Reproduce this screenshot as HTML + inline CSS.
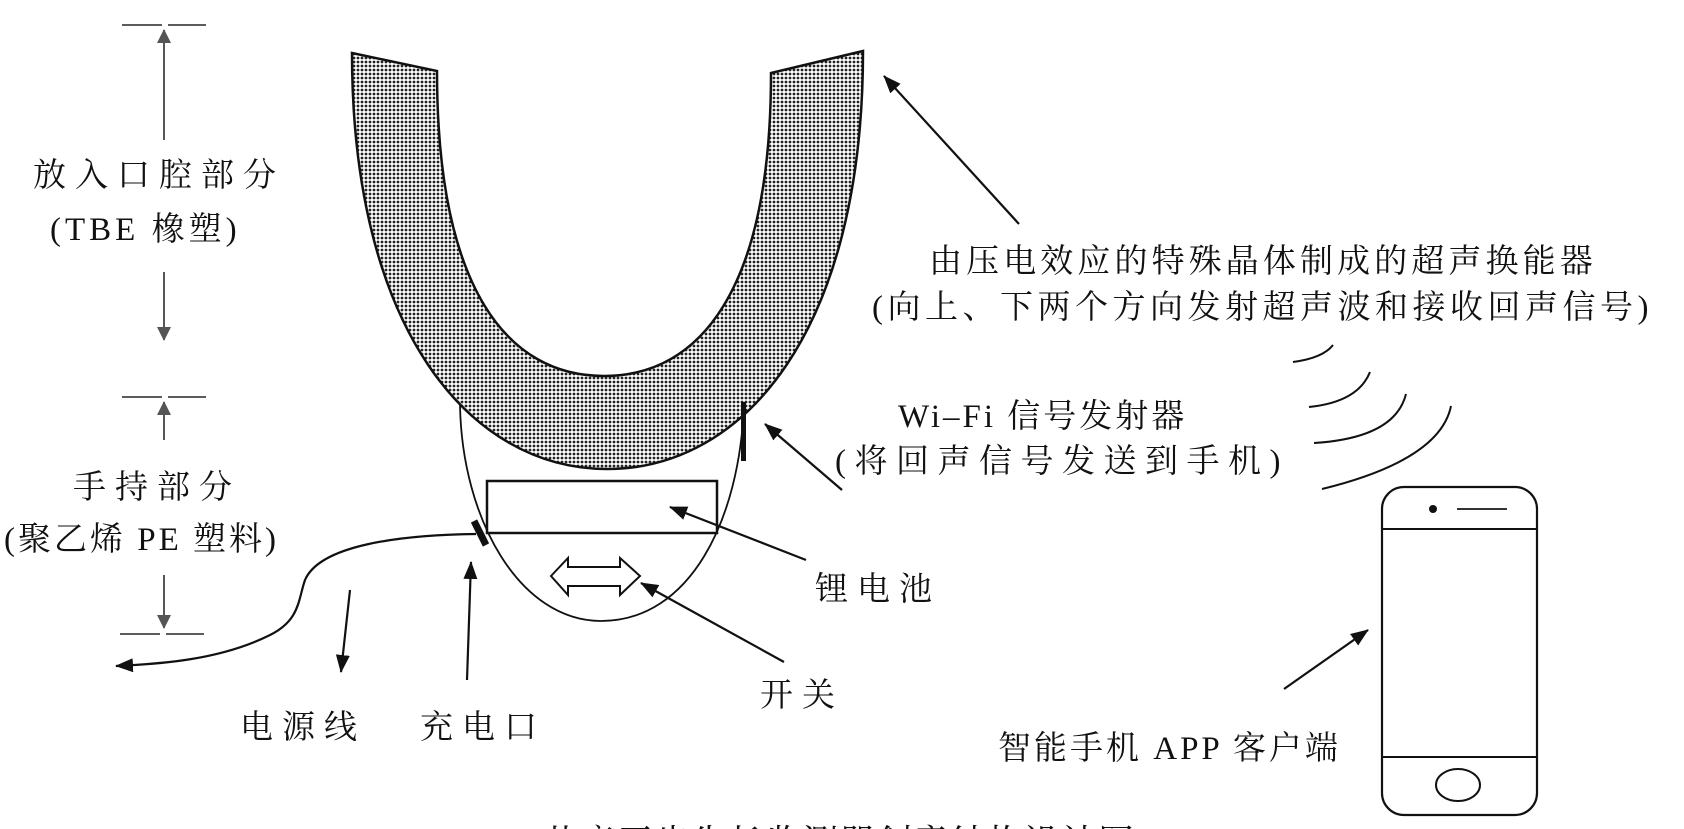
<!DOCTYPE html>
<html><head><meta charset="utf-8"><style>
html,body{margin:0;padding:0;background:#fff;}
body{width:1684px;height:829px;overflow:hidden;position:relative;}
svg{position:absolute;left:0;top:0;}
text{font-family:"Liberation Serif","Noto Serif CJK SC","Noto Sans CJK SC",serif;fill:#111;}
</style></head><body>
<svg width="1684" height="829" viewBox="0 0 1684 829">
<defs>
<pattern id="dots" width="4" height="4" patternUnits="userSpaceOnUse">
<rect width="4" height="4" fill="#fff"/>
<circle cx="2" cy="2" r="1.4" fill="#222"/>
</pattern>
<marker id="ahb" markerWidth="18" markerHeight="14" refX="17" refY="7" orient="auto" markerUnits="userSpaceOnUse" viewBox="0 0 18 14">
<path d="M0,0 L18,7 L0,14 z" fill="#111"/>
</marker>
<marker id="ahg" markerWidth="14" markerHeight="14" refX="13" refY="7" orient="auto" markerUnits="userSpaceOnUse" viewBox="0 0 14 14">
<path d="M0,0 L14,7 L0,14 z" fill="#555"/>
</marker>
</defs>

<path d="M460,405 C462,520 520,621 601,621 C690,621 740,520 744,403" fill="none" stroke="#111" stroke-width="1.8"/>

<path d="M352,53 L437,71 C437,290 508,376 604,376 C700,376 771,290 771,73 L863,51 C863,330 745,469 607,469 C470,469 352,330 352,53 z" fill="url(#dots)" stroke="#111" stroke-width="2.5"/>

<rect x="741" y="402" width="5" height="59" fill="#111"/>
<rect x="487" y="481" width="230" height="52" fill="#fff" stroke="#111" stroke-width="2.5"/>
<line x1="474" y1="521" x2="486" y2="545" stroke="#111" stroke-width="7"/>
<path d="M551,576 L568,558 L568,567 L620,567 L620,558 L640,576 L620,595 L620,586 L568,586 L568,595 z" fill="#fff" stroke="#111" stroke-width="2"/>

<path d="M476,534 C400,535 320,545 305,580 C298,600 300,620 270,635 C220,660 160,664 116,666" fill="none" stroke="#111" stroke-width="2.2" marker-end="url(#ahb)"/>

<g stroke="#444" stroke-width="1.8">
<line x1="122" y1="25" x2="162" y2="25"/><line x1="168" y1="25" x2="206" y2="25"/>
<line x1="164" y1="140" x2="164" y2="30" marker-end="url(#ahg)"/>
<line x1="164" y1="272" x2="164" y2="340" marker-end="url(#ahg)"/>
<line x1="122" y1="397" x2="162" y2="397"/><line x1="168" y1="397" x2="206" y2="397"/>
<line x1="164" y1="440" x2="164" y2="402" marker-end="url(#ahg)"/>
<line x1="164" y1="575" x2="164" y2="628" marker-end="url(#ahg)"/>
<line x1="120" y1="634" x2="160" y2="634"/><line x1="166" y1="634" x2="204" y2="634"/>
</g>

<g stroke="#111" stroke-width="2.2" fill="none">
<line x1="1019" y1="224" x2="884" y2="76" marker-end="url(#ahb)"/>
<line x1="842" y1="490" x2="765" y2="424" marker-end="url(#ahb)"/>
<line x1="806" y1="560" x2="670" y2="507" marker-end="url(#ahb)"/>
<line x1="784" y1="662" x2="641" y2="583" marker-end="url(#ahb)"/>
<line x1="467" y1="680" x2="471" y2="562" marker-end="url(#ahb)"/>
<line x1="350" y1="590" x2="341" y2="672" marker-end="url(#ahb)"/>
<line x1="1284" y1="689" x2="1368" y2="630" marker-end="url(#ahb)"/>
</g>

<g stroke="#111" stroke-width="2" fill="none">
<path d="M1293,362 Q1323,358 1333,345"/>
<path d="M1309,407 Q1358,402 1370,372"/>
<path d="M1314,443 Q1395,438 1406,394"/>
<path d="M1322,489 Q1440,460 1451,406"/>
</g>

<rect x="1382" y="487" width="155" height="328" rx="22" fill="#fff" stroke="#111" stroke-width="2.2"/>
<line x1="1382" y1="529" x2="1537" y2="529" stroke="#111" stroke-width="2"/>
<line x1="1382" y1="757" x2="1537" y2="757" stroke="#111" stroke-width="2"/>
<circle cx="1433" cy="509" r="4" fill="#111"/>
<line x1="1457" y1="509" x2="1507" y2="509" stroke="#333" stroke-width="2"/>
<ellipse cx="1458" cy="785" rx="22" ry="16" fill="none" stroke="#111" stroke-width="2"/>

<g font-size="33">
<text x="33" y="186" letter-spacing="9">放入口腔部分</text>
<text x="50" y="240" letter-spacing="4">(TBE 橡塑)</text>
<text x="73" y="498" letter-spacing="9">手持部分</text>
<text x="4" y="550" letter-spacing="3">(聚乙烯 PE 塑料)</text>
<text x="240" y="738" letter-spacing="9">电源线</text>
<text x="420" y="738" letter-spacing="9">充电口</text>
<text x="760" y="706" letter-spacing="9">开关</text>
<text x="815" y="600" letter-spacing="9">锂电池</text>
<text x="898" y="427" letter-spacing="3">Wi–Fi 信号发射器</text>
<text x="835" y="472" letter-spacing="8.5">(将回声信号发送到手机)</text>
<text x="929" y="272" letter-spacing="4.1">由压电效应的特殊晶体制成的超声换能器</text>
<text x="872" y="318" letter-spacing="4.5">(向上、下两个方向发射超声波和接收回声信号)</text>
<text x="998" y="759" letter-spacing="3">智能手机 APP 客户端</text>
<text x="543" y="855" font-size="36" letter-spacing="1">儿童牙齿生长监测器创意结构设计图</text>
</g>
</svg>
</body></html>
